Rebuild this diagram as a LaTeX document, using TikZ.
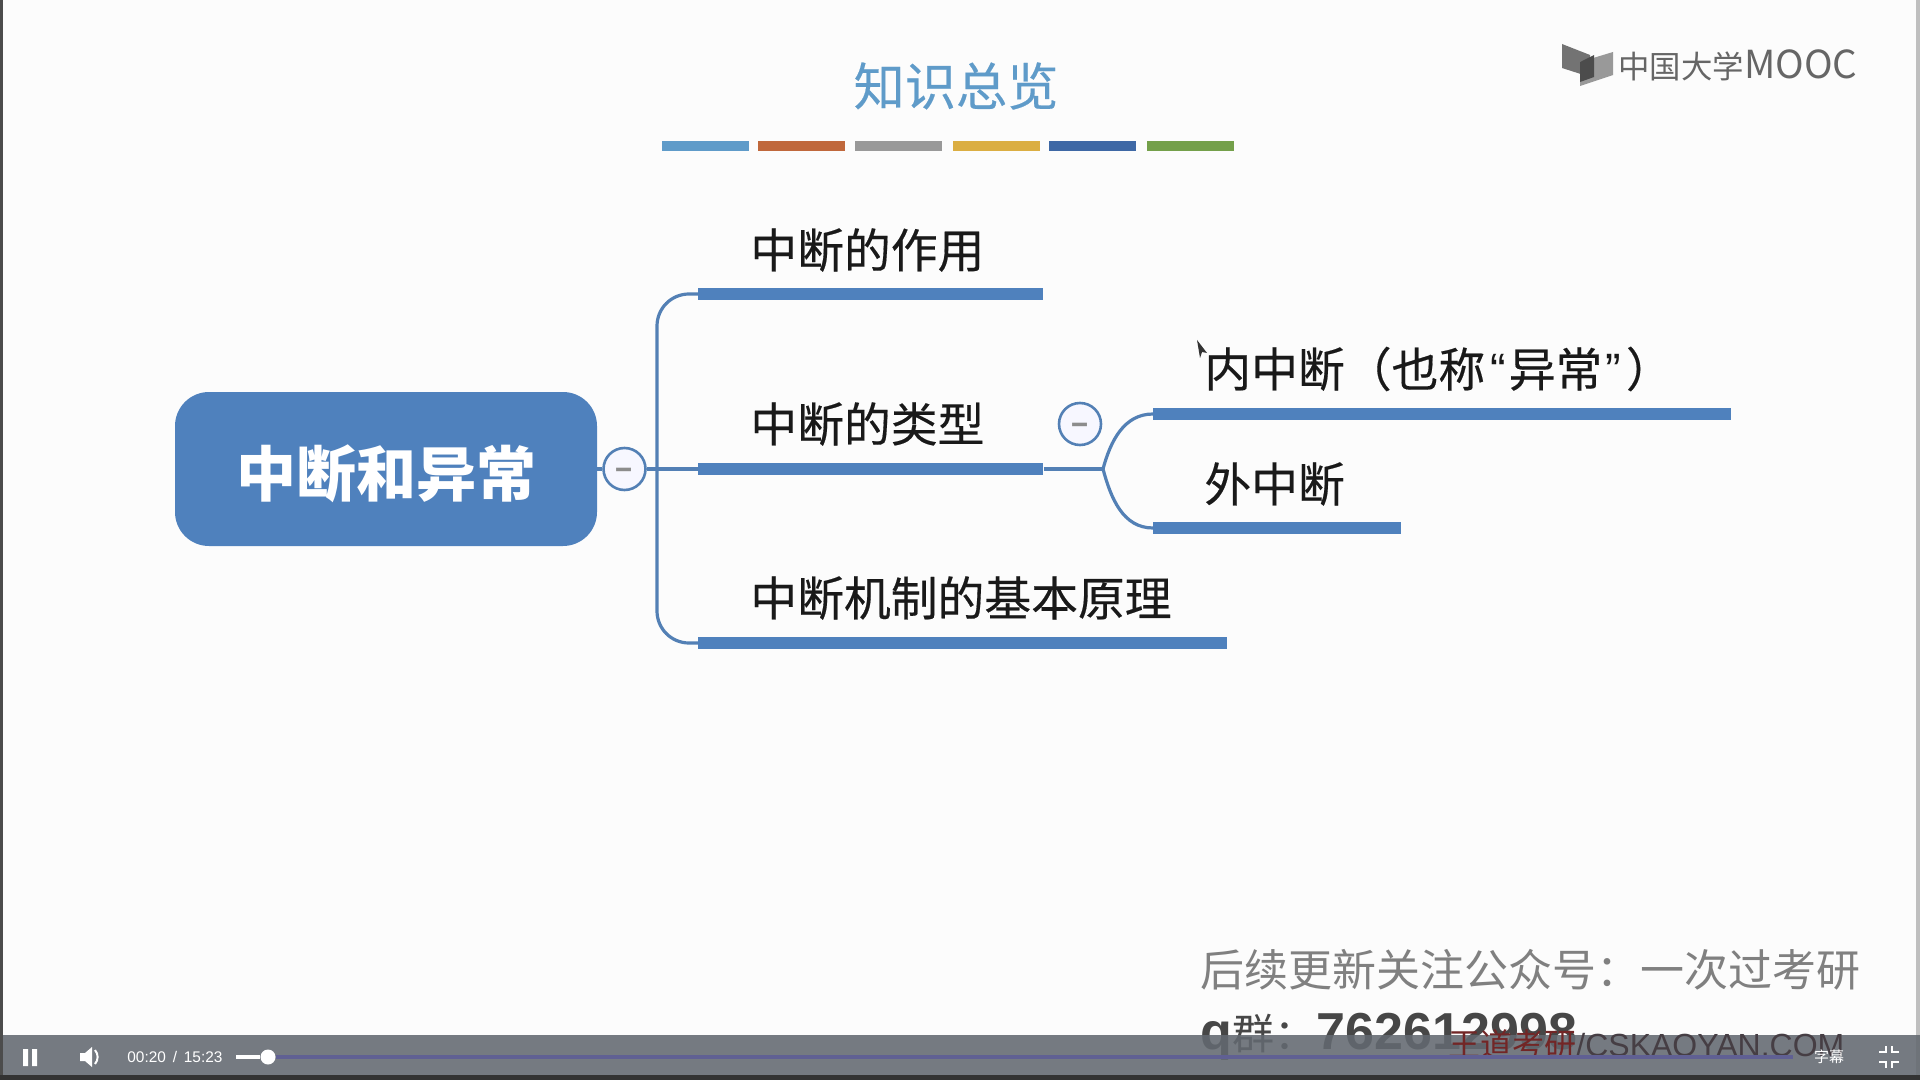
\documentclass[tikz,border=0pt]{standalone}
\usepackage{fontspec}
\setmainfont{Noto Sans CJK SC}
\newfontfamily\latinfont{Liberation Sans}
\newfontfamily\topicfont{Noto Sans CJK SC}[FakeBold=0.35]
\definecolor{mapblue}{HTML}{4F81BD}
\definecolor{linkblue}{HTML}{5380B5}
\definecolor{playbar}{HTML}{636970}
\definecolor{titleblue}{HTML}{5F9BC9}
\newcommand{\foldminus}{\raisebox{-2.6pt}[\height][\depth]{−}}
\tikzset{
  rootbox/.style={rectangle,rounded corners=17pt,fill=mapblue,text=white,font=\fontsize{30}{33}\selectfont\bfseries,minimum width=211pt,minimum height=77pt,inner sep=0pt},
  topicbar/.style={rectangle,fill=mapblue,minimum height=5.6pt,inner sep=0pt,anchor=west},
  topictext/.style={anchor=west,inner sep=0pt,font=\topicfont\fontsize{23.4}{26}\selectfont,text=black!90},
  foldmark/.style={circle,draw=linkblue,line width=1.3pt,fill=blue!3,minimum size=21pt,inner sep=0pt,text=black!45,font=\fontsize{14}{14}\selectfont\bfseries},
  linkline/.style={draw=linkblue,line width=1.6pt},
  colorbar/.style={rectangle,minimum width=43.5pt,minimum height=5.2pt,inner sep=0pt},
  barlabel/.style={inner sep=0pt,text=white,font=\latinfont\fontsize{7.7}{9}\selectfont},
}
\begin{document}
\begin{tikzpicture}[x=0.5pt,y=-0.5pt]
\useasboundingbox (0,0) rectangle (1920,1080);
\fill[white!99!black] (0,0) rectangle (1920,1080);
\fill[black!70] (0,0) rectangle (3,1080);
\fill[black!25] (1916,0) rectangle (1920,1080);
% title and colour strip
\node[inner sep=0pt,text=titleblue,font=\topicfont\fontsize{25.6}{28}\selectfont] (title) at (956,86) {知识总览};
\node[colorbar,fill=titleblue] (strip1) at (705,146) {};
\node[colorbar,fill={rgb,255:red,192;green,104;blue,60}] (strip2) at (801,146) {};
\node[colorbar,fill=black!40] (strip3) at (898,146) {};
\node[colorbar,fill={rgb,255:red,219;green,174;blue,66}] (strip4) at (996,146) {};
\node[colorbar,fill={rgb,255:red,62;green,104;blue,165}] (strip5) at (1092,146) {};
\node[colorbar,fill={rgb,255:red,116;green,160;blue,74}] (strip6) at (1190,146) {};
% logo
\fill[black!55] (1562,44) -- (1590,55) -- (1590,77) -- (1562,68) -- cycle;
\fill[black!40] (1580,62) -- (1613,52) -- (1613,75) -- (1580,86) -- cycle;
\fill[black!70] (1580,62) -- (1594,55) -- (1594,77) -- (1580,82) -- cycle;
\node[anchor=west,inner sep=0pt,text=black!60,font=\fontsize{15.7}{18}\selectfont] (logo) at (1618,65) {中国大学{\fontsize{19.3}{18}\selectfont MOOC}};
% map
\node[rootbox] (root) at (386,469) {\raisebox{-2.5pt}[\height][\depth]{中断和异常}};
\node[foldmark] (fold1) at (624.5,469) {\foldminus};
\coordinate (stem) at (657,469);
\node[topicbar,minimum width=172.5pt] (barA) at (698,294) {};
\node[topicbar,minimum width=172.5pt] (barB) at (698,469) {};
\node[topicbar,minimum width=264.5pt] (barC) at (698,643) {};
\node[topictext] (textA) at (750,250) {中断的作用};
\node[topictext] (textB) at (750,424) {中断的类型};
\node[topictext] (textC) at (750,598) {中断机制的基本原理};
\node[foldmark] (fold2) at (1080,424) {\foldminus};
\coordinate (fork) at (1103,469);
\node[topicbar,minimum width=289pt] (barD) at (1153,414) {};
\node[topicbar,minimum width=124pt] (barE) at (1153,528) {};
\node[topictext] (textD) at (1204,369) {内中断（也称\hspace{2.5pt}{\latinfont“}\hspace{1.5pt}异常\hspace{1.5pt}{\latinfont”}\hspace{2.5pt}）};
\node[topictext] (textE) at (1204,484) {外中断};
\draw[linkline] (root.east) -- (fold1.west);
\draw[linkline] (fold1.east) -- (barB.west);
\draw[linkline,rounded corners=16pt] (barA.west) -| (stem) |- (barC.west);
\draw[linkline] (barB.east) -- (fork);
\draw[linkline] (fork) to[out=75,in=180] (barD.west);
\draw[linkline] (fork) to[out=-75,in=180] (barE.west);
% pointer
\fill[black!80] (1197,340) -- (1207,353) -- (1202,352) -- (1200,358) -- cycle;
% watermark
\node[anchor=west,inner sep=0pt,text=black!50,font=\fontsize{22}{24}\selectfont] (note1) at (1200,970) {后续更新关注公众号：一次过考研};
\node[anchor=west,inner sep=0pt,text=black!72,font=\fontsize{21}{24}\selectfont] (note2) at (1200,1037) {{\latinfont\bfseries\fontsize{26}{28}\selectfont q}群：\hspace{0.3pt}{\latinfont\bfseries\fontsize{26}{28}\selectfont 762612998}};
% player bar
\fill[playbar,opacity=.88] (3,1035) rectangle (1920,1075);
\fill[black!80] (0,1075) rectangle (1920,1080);
\node[anchor=west,inner sep=0pt,text={rgb,255:red,70;green,62;blue,68},font=\latinfont\fontsize{16}{18}\selectfont] (site) at (1448,1044) {{\fontspec{Noto Sans CJK SC}\color{red!35!black!85}王道考研}/CSKAOYAN.COM};
\fill[white] (23,1049) rectangle (28,1066) (32,1049) rectangle (37,1066);
\fill[white] (80,1053) -- (85,1053) -- (92,1047) -- (92,1067) -- (85,1061) -- (80,1061) -- cycle;
\draw[white,line width=1pt] (95,1050) to[bend left=40] (95,1064);
\node[barlabel,anchor=west] (clock) at (127,1057) {00:20 \,/\, 15:23};
\coordinate (slideA) at (236,1057);
\coordinate (slideEnd) at (1793,1057);
\node[circle,fill=white,minimum size=7.5pt,inner sep=0pt] (knob) at (268,1057) {};
\draw[black!20!blue!25!gray,line width=2.2pt] (knob) -- (slideEnd);
\draw[white,line width=2.2pt] (slideA) -- (knob);
\node[barlabel,font=\fontsize{7.5}{9}\selectfont] (subs) at (1829,1057) {字幕};
% exit icon
\draw[white,line width=1.2pt] (1879,1052) -- (1886,1052) -- (1886,1046) (1899,1052) -- (1892,1052) -- (1892,1046) (1879,1062) -- (1886,1062) -- (1886,1068) (1899,1062) -- (1892,1062) -- (1892,1068);
\end{tikzpicture}
\end{document}
